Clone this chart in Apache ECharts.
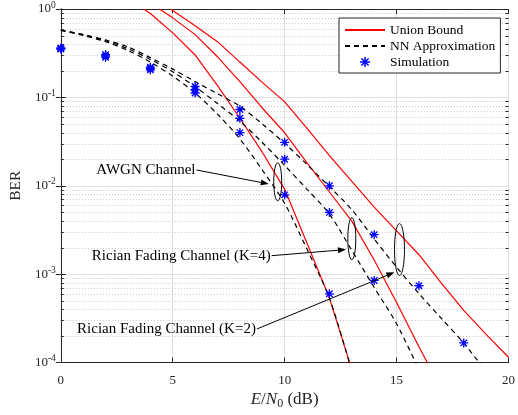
<!DOCTYPE html>
<html>
<head>
<meta charset="utf-8">
<script src="https://cdn.jsdelivr.net/npm/echarts/dist/echarts.min.js"></script>
<style>
  html, body { margin: 0; padding: 0; background: #fff; }
  #ber { width: 518px; height: 415px; }
</style>
</head>
<body>
<div id="ber"></div>
<script>
// values
const snrSim = [0, 2, 4, 6, 8, 10, 12, 14, 16, 18];
const simAwgn = [0.362, 0.305, 0.22, 0.112, 0.040, 0.0079, 0.0006];
const simK4 = [0.357, 0.295, 0.213, 0.123, 0.058, 0.020, 0.005, 0.00085];
const simK2 = [0.352, 0.285, 0.205, 0.133, 0.073, 0.031, 0.010, 0.0028, 0.00074, 0.000167];

const snrUbAwgn = [3.7, 4, 5, 6, 7, 8, 9, 10, 11, 12, 13];
const ubAwgn = [1, 0.891, 0.537, 0.302, 0.136, 0.0581, 0.024, 0.00912, 0.00224, 0.000537, 0.0000832];
const snrUbK4 = [4.4, 5, 6, 7, 8, 9, 10, 11, 12, 13, 14, 15, 16, 17];
const ubK4 = [1, 0.794, 0.513, 0.288, 0.151, 0.0759, 0.0398, 0.0182, 0.00851, 0.00398, 0.00145, 0.000479, 0.000151, 0.0000501];
const snrUbK2 = [4.9, 6, 7, 8, 9, 10, 11, 12, 13, 14, 15, 16, 17, 18, 19, 20];
const ubK2 = [1, 0.646, 0.427, 0.251, 0.148, 0.0891, 0.0447, 0.0219, 0.0112, 0.00575, 0.00309, 0.00166, 0.000794, 0.000389, 0.000209, 0.000115];

const snrNn = [0, 1, 2, 3, 4, 5, 6, 7, 8, 9, 10, 11, 12, 13, 14, 15, 16, 17, 18, 19];
const nnAwgn = [0.575, 0.501, 0.427, 0.339, 0.251, 0.174, 0.112, 0.0646, 0.0339, 0.0151, 0.00631, 0.00191, 0.000537, 0.0000794];
const nnK4 = [0.575, 0.513, 0.437, 0.355, 0.269, 0.195, 0.132, 0.0851, 0.0537, 0.0309, 0.017, 0.00912, 0.00479, 0.00186, 0.000708, 0.000275, 0.0000832];
const nnK2 = [0.575, 0.513, 0.447, 0.372, 0.282, 0.209, 0.151, 0.11, 0.0794, 0.0501, 0.0302, 0.0174, 0.00977, 0.00537, 0.00251, 0.0012, 0.000603, 0.000316, 0.000166, 0.0000794];

// annotations (E/N0 in dB, BER)
const noteLabels = ['AWGN Channel', 'Rician Fading Channel (K=4)', 'Rician Fading Channel (K=2)'];
const noteFrom = [[6.06, 0.0151], [9.42, 0.00162], [8.76, 0.00024]];
const noteTo = [[9.29, 0.0105], [12.74, 0.0019], [14.9, 0.00105]];
const ringAt = [[9.69, 0.0111], [13.0, 0.00252], [15.13, 0.0019]];

const serif = '"Liberation Serif", "Times New Roman", serif';
const axisCol = '#262626';

// minor log ticks 2..9 x 10^k
let minorTicks = [];
for (let k = -4; k < 0; k++) {
    for (let m = 2; m < 10; m++) minorTicks.push([0, m * Math.pow(10, k)]);
}

const pairs = (xs, ys) => ys.map((y, i) => [xs[i], y]);

// asterisk marker like matlab '*'
const starPath = 'path://M0 8.5L20 8.5L20 11.5L0 11.5Z M11.5 0L11.5 20L8.5 20L8.5 0Z ' +
    'M3.9 1.8L18.2 16.1L16.1 18.2L1.8 3.9Z M16.1 1.8L18.2 3.9L3.9 18.2L1.8 16.1Z';

let chart = echarts.init(document.getElementById('ber'));

function ubSeries(xs, ys) {
    return {
        name: 'Union Bound', type: 'line', data: pairs(xs, ys),
        symbol: 'none', showSymbol: false, z: 3,
        lineStyle: {color: '#ff0000', width: 1.2},
        itemStyle: {color: '#ff0000'}
    };
}
function nnSeries(xs, ys) {
    return {
        name: 'NN Approximation', type: 'line', data: pairs(xs, ys),
        symbol: 'none', showSymbol: false, smooth: 0.3, z: 4,
        lineStyle: {color: '#000', width: 1.2, type: [5, 4]},
        itemStyle: {color: '#000'}
    };
}
function simSeries(ys) {
    return {
        name: 'Simulation', type: 'scatter', data: pairs(snrSim, ys),
        symbol: starPath, symbolSize: 9, symbolKeepAspect: true, z: 5,
        itemStyle: {color: '#0000ff', opacity: 1}
    };
}

let option = {
    animation: false,
    backgroundColor: '#fff',
    grid: {left: 59, right: 7, top: 8, bottom: 51, containLabel: false},
    legend: {
        data: [
            {name: 'Union Bound', itemStyle: {opacity: 0}},
            {name: 'NN Approximation', itemStyle: {opacity: 0}},
            {name: 'Simulation'}
        ],
        orient: 'vertical',
        left: 339, top: 18,
        itemWidth: 40, itemHeight: 10, itemGap: 2,
        padding: [5, 5, 4, 5],
        backgroundColor: '#fff',
        borderColor: axisCol, borderWidth: 1,
        textStyle: {fontFamily: serif, fontSize: 13.5, color: '#000', lineHeight: 14},
        selectedMode: false
    },
    xAxis: [{
        type: 'value', min: 0, max: 20, interval: 5,
        name: '{i|E}/{i|N}{sub|0} (dB)',
        nameLocation: 'middle', nameGap: 26,
        nameTextStyle: {
            fontFamily: serif, fontSize: 17, color: axisCol,
            rich: {
                i: {fontFamily: serif, fontSize: 17, fontStyle: 'italic', color: axisCol},
                sub: {fontFamily: serif, fontSize: 12, color: axisCol, padding: [8, 0, 0, 0]}
            }
        },
        axisLine: {lineStyle: {color: axisCol, width: 1}},
        axisTick: {inside: true, length: 5, lineStyle: {color: axisCol}},
        axisLabel: {fontFamily: serif, fontSize: 13, color: axisCol, margin: 11},
        splitLine: {show: true, lineStyle: {color: '#dfdfdf', width: 1}}
    }, {
        type: 'value', min: 0, max: 20, interval: 5, position: 'top',
        axisLine: {show: true, lineStyle: {color: axisCol, width: 1}},
        axisTick: {inside: true, length: 5, lineStyle: {color: axisCol}},
        axisLabel: {show: false},
        splitLine: {show: false}
    }],
    yAxis: [{
        type: 'log', logBase: 10, min: 0.0001, max: 1, interval: 1,
        name: 'BER', nameLocation: 'middle', nameGap: 35,
        nameTextStyle: {fontFamily: serif, fontSize: 15.5, color: axisCol},
        axisLine: {show: true, lineStyle: {color: axisCol, width: 1}},
        axisTick: {show: true, inside: true, length: 5, lineStyle: {color: axisCol}},
        axisLabel: {
            margin: 5, color: axisCol, fontFamily: serif, fontSize: 13,
            formatter: v => '10{sup|' + Math.round(Math.log10(v)) + '}',
            rich: {sup: {fontFamily: serif, fontSize: 9.5, color: axisCol, padding: [0, 0, 8, 0]}}
        },
        splitLine: {show: true, lineStyle: {color: '#dfdfdf', width: 1}}
    }, {
        type: 'log', logBase: 10, min: 0.0001, max: 1, interval: 1, position: 'right',
        axisLine: {show: true, lineStyle: {color: axisCol, width: 1}},
        axisTick: {show: true, inside: true, length: 5, lineStyle: {color: axisCol}},
        axisLabel: {show: false},
        splitLine: {show: false}
    }],
    series: [
        {
            // minor grid (dotted) and minor ticks on both sides
            type: 'custom', silent: true, z: 1,
            data: minorTicks,
            encode: {x: 0, y: 1},
            clip: false,
            renderItem: function (params, api) {
                let cs = params.coordSys;
                let y = Math.round(api.coord([0, api.value(1)])[1]) + 0.5;
                return {
                    type: 'group',
                    children: [
                        {type: 'line', shape: {x1: cs.x, y1: y, x2: cs.x + cs.width, y2: y},
                            style: {stroke: '#c8c8c8', lineWidth: 1, lineDash: [1, 2]}},
                        {type: 'line', shape: {x1: cs.x, y1: y, x2: cs.x + 3, y2: y},
                            style: {stroke: axisCol, lineWidth: 1}},
                        {type: 'line', shape: {x1: cs.x + cs.width - 3, y1: y, x2: cs.x + cs.width, y2: y},
                            style: {stroke: axisCol, lineWidth: 1}}
                    ]
                };
            }
        },
        ubSeries(snrUbAwgn, ubAwgn),
        ubSeries(snrUbK4, ubK4),
        ubSeries(snrUbK2, ubK2),
        nnSeries(snrNn, nnAwgn),
        nnSeries(snrNn, nnK4),
        nnSeries(snrNn, nnK2),
        simSeries(simAwgn),
        simSeries(simK4),
        simSeries(simK2)
    ]
};

chart.setOption(option);

// arrows, labels and ellipses placed through the axes
const px = p => chart.convertToPixel({xAxisIndex: 0, yAxisIndex: 0}, p);
const ringR = [[4, 19], [4, 21], [5, 26]];
let graphics = [];
noteLabels.forEach((t, i) => {
    let a = px(noteFrom[i]), b = px(noteTo[i]), c = px(ringAt[i]);
    let dx = b[0] - a[0], dy = b[1] - a[1], L = Math.hypot(dx, dy);
    let ux = dx / L, uy = dy / L;
    let hl = 8, hw = 3;
    let base = [b[0] - ux * hl, b[1] - uy * hl];
    graphics.push({
        type: 'text', x: a[0] - 1, y: a[1], z: 10,
        style: {text: t, fontFamily: serif, fontSize: 15, fill: '#000',
            textAlign: 'right', textVerticalAlign: 'middle', align: 'right', verticalAlign: 'middle'}
    });
    graphics.push({
        type: 'line', z: 10,
        shape: {x1: a[0], y1: a[1], x2: base[0], y2: base[1]},
        style: {stroke: '#000', lineWidth: 1}
    });
    graphics.push({
        type: 'polygon', z: 10,
        shape: {points: [b, [base[0] - uy * hw, base[1] + ux * hw], [base[0] + uy * hw, base[1] - ux * hw]]},
        style: {fill: '#000'}
    });
    graphics.push({
        type: 'ellipse', z: 10,
        shape: {cx: c[0], cy: c[1], rx: ringR[i][0], ry: ringR[i][1]},
        style: {fill: 'none', stroke: '#000', lineWidth: 1}
    });
});
chart.setOption({graphic: graphics});
</script>
</body>
</html>
